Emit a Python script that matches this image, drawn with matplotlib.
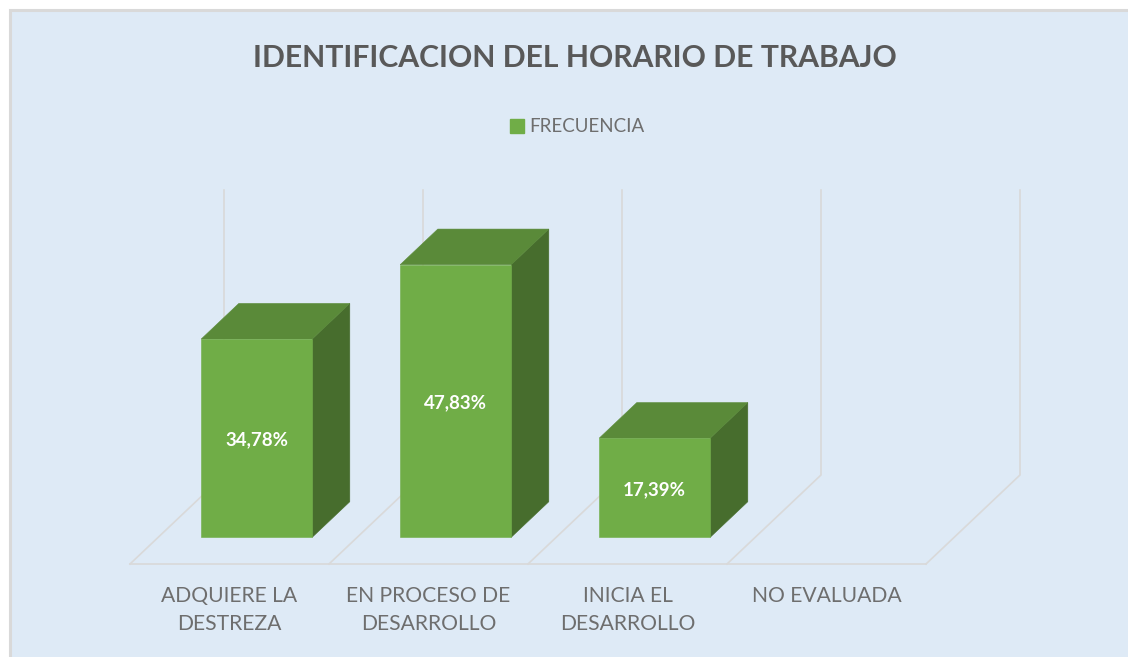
import matplotlib
matplotlib.use("Agg")
import matplotlib.pyplot as plt
from matplotlib.patches import Patch, Polygon, Rectangle

categories = ["ADQUIERE LA\nDESTREZA", "EN PROCESO DE\nDESARROLLO", "INICIA EL\nDESARROLLO", "NO EVALUADA"]
values = [34.78, 47.83, 17.39, 0.0]
value_labels = ["34,78%", "47,83%", "17,39%", ""]
series_name = "FRECUENCIA"
title = "IDENTIFICACION DEL HORARIO DE TRABAJO"
y_max = 50

BG = "#DEEAF6"
FRONT = "#70AD47"
TOP = "#5A8A39"
SIDE = "#476D2D"
GRID = "#D9D9D9"
FONT = "Lato"

W, H = 1128, 657
SLOT = 199.0      # px per category
PER_UNIT = 5.7    # px per percent
X0, Y0 = 130, 564  # front left corner of the floor, px
DEPTH_X = 94 / SLOT
DEPTH_Y = 89 / PER_UNIT
BAR_W = 111 / SLOT
BAR_DEPTH = 0.4
BAR_FRONT = 0.3


def project(x, y, d):
    return x + d * DEPTH_X, y + d * DEPTH_Y


fig = plt.figure(figsize=(W / 100, H / 100), dpi=100, facecolor="white")

# panel background and its grey edge, behind the axes
fig.patches.append(Rectangle((10 / W, -0.1), 1.1, 1.1 - 10 / H, transform=fig.transFigure,
                             facecolor=BG, edgecolor=GRID, linewidth=2.2, zorder=-1))

ax = fig.add_axes([0, 0, 1, 1])
ax.set_xlim(-X0 / SLOT, (W - X0) / SLOT)
ax.set_ylim((Y0 - H) / PER_UNIT, Y0 / PER_UNIT)
ax.axis("off")

# floor and back wall
n = len(categories)
for i in range(n + 1):
    bx, by = project(i, 0, 1)
    ax.plot([i, bx, bx], [0, by, by + y_max], color=GRID, lw=1.2, solid_joinstyle="miter", zorder=1)
ax.plot([0, n], [0, 0], color=GRID, lw=1.2, zorder=1)

for i, v in enumerate(values):
    if v <= 0:
        continue
    x0 = i + (1 - BAR_W) / 2 - 0.005
    x1 = x0 + BAR_W
    front = [project(x0, 0, BAR_FRONT), project(x1, 0, BAR_FRONT),
             project(x1, v, BAR_FRONT), project(x0, v, BAR_FRONT)]
    back_d = BAR_FRONT + BAR_DEPTH
    top = [project(x0, v, BAR_FRONT), project(x1, v, BAR_FRONT),
           project(x1, v, back_d), project(x0, v, back_d)]
    side = [project(x1, 0, BAR_FRONT), project(x1, 0, back_d),
            project(x1, v, back_d), project(x1, v, BAR_FRONT)]
    ax.add_patch(Polygon(side, facecolor=SIDE, edgecolor=SIDE, lw=0.4, zorder=3))
    ax.add_patch(Polygon(top, facecolor=TOP, edgecolor=TOP, lw=0.4, zorder=3))
    ax.add_patch(Polygon(front, facecolor=FRONT, edgecolor=FRONT, lw=0.4, zorder=3))
    cx, cy = project((x0 + x1) / 2, v / 2, BAR_FRONT)
    ax.text(cx, cy - 0.3, value_labels[i], color="white", fontsize=13.5, fontweight="bold",
            family=FONT, ha="center", va="center", zorder=4)

for i, label in enumerate(categories):
    ax.text(i + 0.5, -3.8, label, color="#6E6E6E", fontsize=15.2, family=FONT,
            ha="center", va="top", linespacing=1.52)

fig.text(575 / W, 1 - 58 / H, title, color="#595959", fontsize=21.7, fontweight="bold",
         family=FONT, ha="center", va="center")

handle = Patch(facecolor=FRONT, edgecolor=FRONT)
leg = ax.legend([handle], [series_name], loc="center", bbox_to_anchor=(577.5 / W, 1 - 127 / H),
                frameon=False, handlelength=0.75, handleheight=0.75, handletextpad=0.3,
                prop={"family": FONT, "size": 13.5}, labelcolor="#6E6E6E")

plt.savefig("out.png", dpi=100)
